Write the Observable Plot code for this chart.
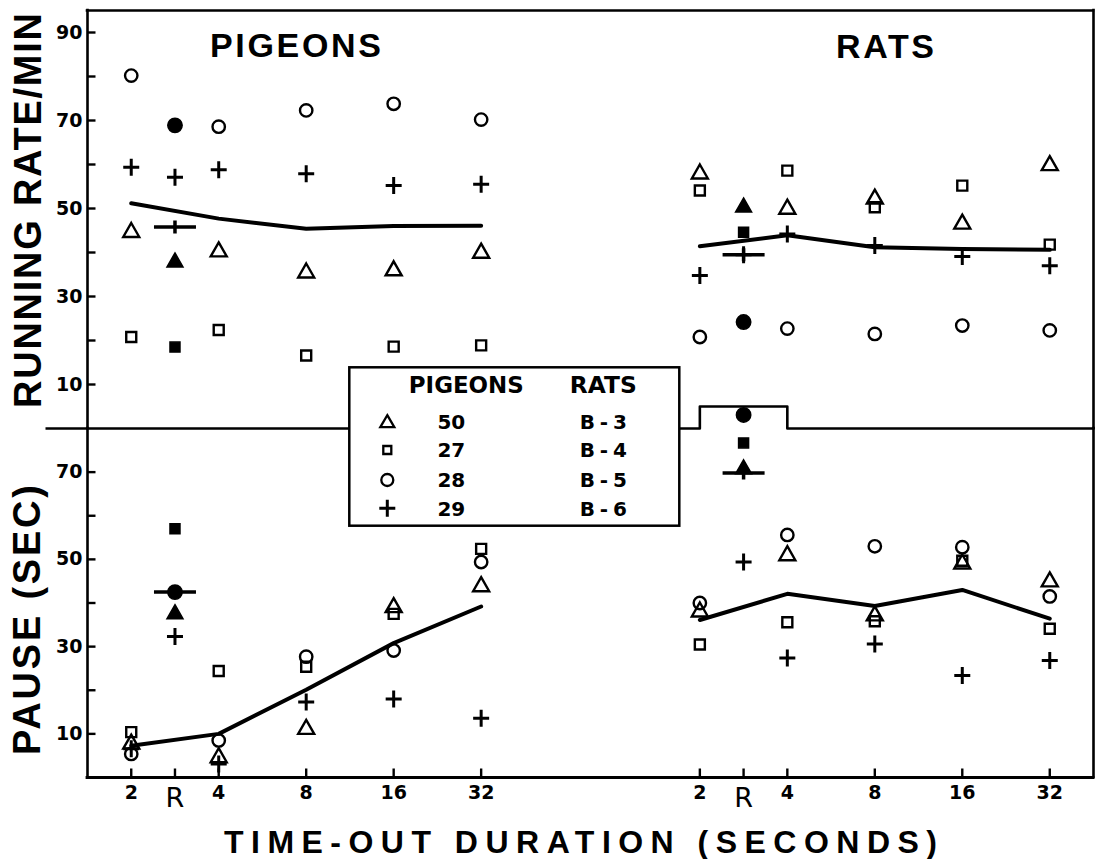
<!DOCTYPE html>
<html><head><meta charset="utf-8">
<script src="https://cdn.jsdelivr.net/npm/d3@7"></script>
<script src="https://cdn.jsdelivr.net/npm/@observablehq/plot@0.6"></script>
<style>
html,body{margin:0;padding:0;background:#fff;}
#chart{position:relative;width:1100px;height:859px;overflow:hidden;background:#fff;}
#chart svg{position:absolute;left:0;overflow:visible;}
</style></head><body><div id="chart"></div>
<script>
// ---------------- data ----------------
const durations = [2, 4, 8, 16, 32];
const tickLabels = ["2", "R", "4", "8", "16", "32"];
const pigeonIds = ["50", "27", "28", "29"];
const ratIds = ["B-3", "B-4", "B-5", "B-6"];

// running rate (responses/min), subjects in legend order
const pigeonRate = [
  [45.0, 40.6, 35.8, 36.3, 40.3],
  [20.8, 22.4, 16.6, 18.6, 18.9],
  [80.2, 68.6, 72.3, 73.8, 70.2],
  [59.4, 58.8, 57.9, 55.2, 55.5]
];
const pigeonRateR = [38.2, 18.5, 68.9, 57.1];
const pigeonRateMean = [51.2, 47.7, 45.4, 46.0, 46.1];
const pigeonRateMeanR = 45.8;

const ratRate = [
  [58.3, 50.3, 52.6, 46.9, 60.2],
  [54.1, 58.6, 50.3, 55.2, 41.8],
  [20.8, 22.7, 21.5, 23.4, 22.3],
  [34.8, 44.2, 41.6, 39.1, 37.0]
];
const ratRateR = [50.7, 44.6, 24.2, 39.5];
const ratRateMean = [41.4, 43.9, 41.2, 40.8, 40.6];
const ratRateMeanR = 39.5;

// pause (sec)
const pigeonPause = [
  [8.1, 5.0, 11.5, 39.4, 44.2],
  [10.4, 24.4, 25.4, 37.5, 52.4],
  [5.4, 8.5, 27.7, 29.1, 49.4],
  [6.6, 3.1, 17.3, 18.0, 13.6]
];
const pigeonPauseR = [37.9, 57.0, 42.5, 32.3];
const pigeonPauseMean = [7.3, 10.0, 20.1, 30.8, 39.2];
const pigeonPauseMeanR = 42.5;

const ratPause = [
  [38.4, 51.3, 37.5, 49.4, 45.3],
  [30.5, 35.6, 35.8, 49.7, 34.1],
  [40.0, 55.6, 53.0, 52.8, 41.5],
  [null, 27.4, 30.6, 23.4, 26.8]
];
const ratPauseR = [71.1, 76.7, 83.1, 49.4];
const ratPauseMean = [36.1, 42.1, 39.3, 43.0, 36.4];
const ratPauseMeanR = 69.8;

const rateTicks = [10, 20, 30, 40, 50, 60, 70, 80, 90];
const rateLabels = [10, 30, 50, 70, 90];
const pauseTicks = [10, 20, 30, 40, 50, 60, 70];
const pauseLabels = [10, 30, 50, 70];

// ---------------- helpers ----------------
const RAT_OFFSET = 6.5; // log2 units between the two halves
function xOf(species, label) {
  const base = label === "R" ? 1.5 : Math.log2(+label);
  return base + (species === "rats" ? RAT_OFFSET : 0);
}
const TRI = {draw(c){c.moveTo(0,-7.5);c.lineTo(8,6.5);c.lineTo(-8,6.5);c.closePath();}};
const SQR = {draw(c){c.moveTo(-5,-5);c.lineTo(5,-5);c.lineTo(5,5);c.lineTo(-5,5);c.closePath();}};
const CIR = {draw(c){c.moveTo(6.2,0);c.arc(0,0,6.2,0,2*Math.PI);}};
const PLUS = {draw(c){c.moveTo(-8,0);c.lineTo(8,0);c.moveTo(0,-8.5);c.lineTo(0,8.5);}};
const MEAN = {draw(c){c.moveTo(-21,0);c.lineTo(21,0);c.moveTo(0,-6.5);c.lineTo(0,6.5);}};
const YTICK = {draw(c){c.moveTo(0,0);c.lineTo(8,0);}};
const XTICK = {draw(c){c.moveTo(0,0);c.lineTo(0,-9);}};
const ZEROEXT = {draw(c){c.moveTo(-42,0);c.lineTo(0,0);}};
const SYMS = [TRI, SQR, CIR, PLUS];

function pointRows(species, values, rValues) {
  const out = [];
  values.forEach((arr, s) => arr.forEach((v, j) => { if (v != null) out.push({x: xOf(species, durations[j]), v, s, filled: false}); }));
  rValues.forEach((v, s) => out.push({x: xOf(species, "R"), v, s, filled: true}));
  return out;
}
function meanRows(species, means) {
  return means.map((v, j) => ({x: xOf(species, durations[j]), v, species}));
}
function dataMarks(rows, means, meanR) {
  const marks = [];
  for (let s = 0; s < 4; s++) {
    marks.push(Plot.dot(rows.filter(d => d.s === s && !d.filled), {
      x: "x", y: "v", symbol: SYMS[s], fill: "none", stroke: "black", strokeWidth: s === 3 ? 3 : 2.4
    }));
    marks.push(Plot.dot(rows.filter(d => d.s === s && d.filled), {
      x: "x", y: "v", symbol: s === 2 ? {draw(c){c.moveTo(7.2,0);c.arc(0,0,7.2,0,2*Math.PI);}} : SYMS[s],
      fill: "black", stroke: "black", strokeWidth: s === 3 ? 3 : 1.5
    }));
  }
  for (const sp of ["pigeons", "rats"]) {
    marks.push(Plot.line(meanRows(sp, means[sp]), {x: "x", y: "v", stroke: "black", strokeWidth: 4}));
    marks.push(Plot.dot([{x: xOf(sp, "R"), v: meanR[sp]}], {x: "x", y: "v", symbol: MEAN, stroke: "black", strokeWidth: 3.5}));
  }
  return marks;
}

const allTickX = [];
for (const sp of ["pigeons", "rats"]) for (const t of tickLabels) allTickX.push({x: xOf(sp, t), label: t});

const baseStyle = {fontFamily: "DejaVu Sans", fontSize: "19px", fontWeight: "bold", background: "transparent", overflow: "visible", color: "black"};

// ---------------- top panel: running rate ----------------
const topRows = [...pointRows("pigeons", pigeonRate, pigeonRateR), ...pointRows("rats", ratRate, ratRateR)];
const divider = [[0.5, 0], [xOf("rats", 2), 0], [xOf("rats", 2), 5], [xOf("rats", 4), 5], [xOf("rats", 4), 0], [12, 0]];
const topPlot = Plot.plot({
  width: 1100, height: 428,
  marginTop: 10, marginBottom: 0, marginLeft: 87, marginRight: 7,
  x: {domain: [0.5, 12], axis: null},
  y: {domain: [0, 95], label: null},
  style: baseStyle,
  marks: [
    Plot.ruleY([95], {x1: 0.5, x2: 12, strokeWidth: 2.6, strokeLinecap: "square"}),
    Plot.ruleX([0.5, 12], {y1: 0, y2: 95, strokeWidth: 2.6, strokeLinecap: "square"}),
    Plot.line(divider, {x: d => d[0], y: d => d[1], strokeWidth: 2.6}),
    Plot.dot([0], {x: 0.5, y: d => d, symbol: ZEROEXT, stroke: "black", strokeWidth: 2.6}),
    Plot.dot(rateTicks, {x: 0.5, y: d => d, symbol: YTICK, stroke: "black", strokeWidth: 2.4}),
    Plot.axisY({ticks: rateLabels, tickSize: 0, tickPadding: 5, label: null, fontSize: 19, fontWeight: "bold"}),
    ...dataMarks(topRows, {pigeons: pigeonRateMean, rats: ratRateMean}, {pigeons: pigeonRateMeanR, rats: ratRateMeanR})
  ]
});
topPlot.style.top = "0px";

// ---------------- bottom panel: pause ----------------
const botRows = [...pointRows("pigeons", pigeonPause, pigeonPauseR), ...pointRows("rats", ratPause, ratPauseR)];
const botPlot = Plot.plot({
  width: 1100, height: 431,
  marginTop: 0, marginBottom: 82, marginLeft: 87, marginRight: 7,
  x: {domain: [0.5, 12], axis: null},
  y: {domain: [0, 80], label: null},
  style: baseStyle,
  marks: [
    Plot.ruleY([0], {x1: 0.5, x2: 12, strokeWidth: 2.8, strokeLinecap: "square"}),
    Plot.ruleX([0.5, 12], {y1: 0, y2: 80, strokeWidth: 2.6, strokeLinecap: "square"}),
    Plot.dot(pauseTicks, {x: 0.5, y: d => d, symbol: YTICK, stroke: "black", strokeWidth: 2.4}),
    Plot.axisY({ticks: pauseLabels, tickSize: 0, tickPadding: 5, label: null, fontSize: 19, fontWeight: "bold"}),
    Plot.dot(allTickX, {x: "x", y: 0, symbol: XTICK, stroke: "black", strokeWidth: 2.4}),
    Plot.text(allTickX.filter(d => d.label !== "R"), {x: "x", y: 0, text: "label", dy: 15, fontSize: 19, fontWeight: "bold"}),
    Plot.text(allTickX.filter(d => d.label === "R"), {x: "x", y: 0, text: "label", dy: 21, fontSize: 27, fontWeight: "normal"}),
    ...dataMarks(botRows, {pigeons: pigeonPauseMean, rats: ratPauseMean}, {pigeons: pigeonPauseMeanR, rats: ratPauseMeanR})
  ]
});
botPlot.style.top = "428px";

const chart = document.getElementById("chart");
chart.appendChild(topPlot);
chart.appendChild(botPlot);

// ---------------- overlay: titles and legend ----------------
const ov = d3.create("svg").attr("width", 1100).attr("height", 859).style("top", "0px");
const TF = "Liberation Sans, Arial, sans-serif";
function title(x, y, txt, size, len, rotate) {
  return ov.append("text")
    .attr("transform", rotate ? `translate(${x},${y}) rotate(-90)` : `translate(${x},${y})`)
    .attr("font-family", TF).attr("font-weight", "bold").attr("font-size", size)
    .attr("textLength", len).attr("lengthAdjust", "spacing").text(txt);
}
title(210, 57, "PIGEONS", 34, 171, false);
title(836, 58, "RATS", 34, 98, false);
title(224, 853, "TIME-OUT DURATION (SECONDS)", 32, 713, false);
title(41, 408, "RUNNING RATE/MIN", 38, 395, true);
title(40, 755, "PAUSE (SEC)", 38, 270, true);

const lg = ov.append("g").attr("transform", "translate(349.3,367.3)");
lg.append("rect").attr("width", 330).attr("height", 158.4).attr("fill", "white").attr("stroke", "black").attr("stroke-width", 2.5);
const LF = "DejaVu Sans, sans-serif";
lg.append("text").attr("x", 117).attr("y", 26).attr("text-anchor", "middle").attr("font-family", LF)
  .attr("font-weight", "bold").attr("font-size", 23).attr("textLength", 115).attr("lengthAdjust", "spacingAndGlyphs").text("PIGEONS");
lg.append("text").attr("x", 254).attr("y", 26).attr("text-anchor", "middle").attr("font-family", LF)
  .attr("font-weight", "bold").attr("font-size", 23).attr("textLength", 67).attr("lengthAdjust", "spacingAndGlyphs").text("RATS");
const rowY = [54.4, 82.7, 112.7, 141];
const legSyms = [
  {draw(c){c.moveTo(0,-6.5);c.lineTo(7,5.5);c.lineTo(-7,5.5);c.closePath();}},
  {draw(c){c.moveTo(-4,-4);c.lineTo(4,-4);c.lineTo(4,4);c.lineTo(-4,4);c.closePath();}},
  {draw(c){c.moveTo(6,0);c.arc(0,0,6,0,2*Math.PI);}},
  {draw(c){c.moveTo(-8,0);c.lineTo(8,0);c.moveTo(0,-8.5);c.lineTo(0,8.5);}}
];
pigeonIds.forEach((id, i) => {
  lg.append("path").attr("transform", `translate(38,${rowY[i]})`).attr("d", d3.symbol().type(legSyms[i])())
    .attr("fill", "none").attr("stroke", "black").attr("stroke-width", i === 3 ? 3 : 2.3);
  lg.append("text").attr("x", 102).attr("y", rowY[i] + 7.4).attr("text-anchor", "middle").attr("font-family", LF)
    .attr("font-weight", "bold").attr("font-size", 20).text(id);
  lg.append("text").attr("x", 254).attr("y", rowY[i] + 7.4).attr("text-anchor", "middle").attr("font-family", LF)
    .attr("font-weight", "bold").attr("font-size", 20).attr("textLength", 47).attr("lengthAdjust", "spacing").text(ratIds[i]);
});
chart.appendChild(ov.node());
</script></body></html>
